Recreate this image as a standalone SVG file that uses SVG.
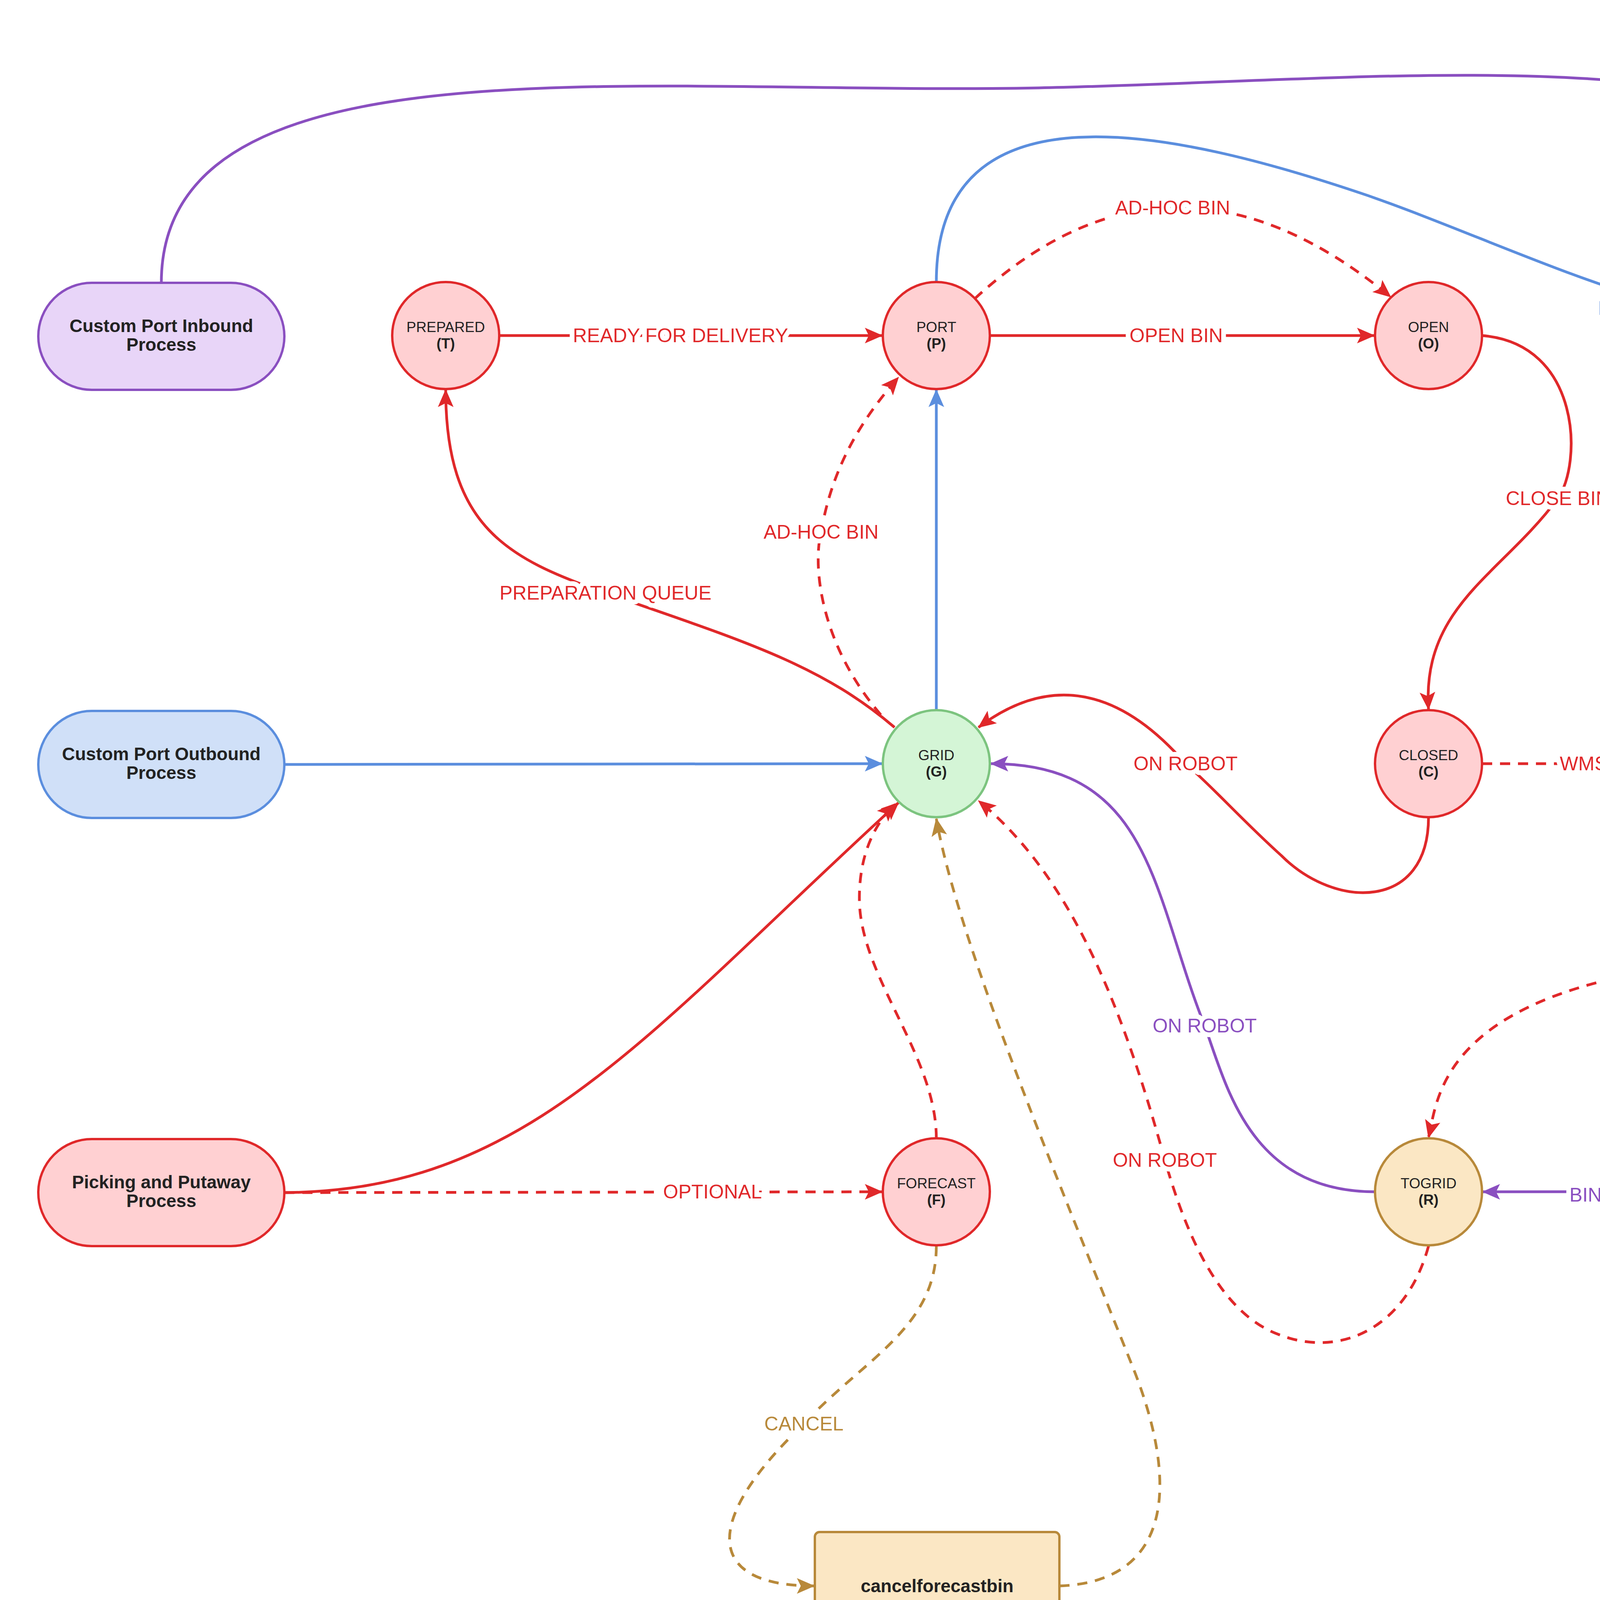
<svg xmlns="http://www.w3.org/2000/svg" width="6414" height="4296" viewBox="0 0 6414 4296">
<style>
text{font-family:"Liberation Sans",Arial,sans-serif;text-anchor:middle}
.nt{font-size:37px;fill:#222}
.nb{font-size:37px;fill:#222;font-weight:bold}
.pt{font-size:46px;font-weight:bold;fill:#222}
.e{fill:none;stroke-width:7}
.d{stroke-dasharray:26 20}
.r{stroke:#e0282a}.b{stroke:#5b8ede}.p{stroke:#8a4fc0}.o{stroke:#b8893a}
.l{font-size:50px;paint-order:stroke;stroke:#fff;stroke-width:24px;stroke-linejoin:round}
.lr{fill:#e0282a}.lb{fill:#5b8ede}.lp{fill:#8a4fc0}.lo{fill:#b8893a}
.cr{fill:#ffd0d2;stroke:#e0282a;stroke-width:6}
.cg{fill:#d4f5d6;stroke:#7cc47f;stroke-width:6}
.co{fill:#fbe7c4;stroke:#b8893a;stroke-width:6}
</style>
<defs>
<marker id="ar" markerUnits="userSpaceOnUse" markerWidth="50" markerHeight="40" refX="44" refY="20" orient="auto"><path d="M0,0 L46,20 L0,40 L10,20 Z" fill="#e0282a"/></marker>
<marker id="ab" markerUnits="userSpaceOnUse" markerWidth="50" markerHeight="40" refX="44" refY="20" orient="auto"><path d="M0,0 L46,20 L0,40 L10,20 Z" fill="#5b8ede"/></marker>
<marker id="ap" markerUnits="userSpaceOnUse" markerWidth="50" markerHeight="40" refX="44" refY="20" orient="auto"><path d="M0,0 L46,20 L0,40 L10,20 Z" fill="#8a4fc0"/></marker>
<marker id="ao" markerUnits="userSpaceOnUse" markerWidth="50" markerHeight="40" refX="44" refY="20" orient="auto"><path d="M0,0 L46,20 L0,40 L10,20 Z" fill="#b8893a"/></marker>
</defs>
<rect width="6414" height="4296" fill="#fff"/>
<g id="connectors">
<path class="e p" marker-end="url(#ap)" d="M413,724 C413,82 1636,245 2659,225 C3681,204 4912,40 4912,718"/>
<path class="e r" marker-end="url(#ar)" d="M1278,859 L2258,859"/>
<path class="e r" marker-end="url(#ar)" d="M2534,859 L3518,859"/>
<path class="e r d" marker-end="url(#ar)" d="M2495,765 Q3000,300 3560,760"/>
<path class="e b" marker-end="url(#ab)" d="M2397,722 C2397,200 3000,330 3500,500 C3900,640 4300,859 4773,859"/>
<path class="e b" marker-end="url(#ab)" d="M5049,859 L6033,859"/>
<path class="e r" marker-end="url(#ar)" d="M3794,859 C4050,880 4050,1190 3988,1276 C3845,1470 3640,1550 3657,1816"/>
<path class="e r" marker-end="url(#ar)" d="M3657,2092 C3657,2330 3420,2330 3280,2190 C3180,2100 3100,2010 3035,1955 C2900,1800 2720,1700 2505,1862"/>
<path class="e r" marker-end="url(#ar)" d="M2290,1862 C2100,1700 1900,1640 1550,1518 C1300,1430 1141,1350 1141,998"/>
<path class="e r d" marker-end="url(#ar)" d="M2255,1830 C2100,1650 2080,1450 2102,1362 C2130,1200 2200,1080 2300,966"/>
<path class="e b" marker-end="url(#ab)" d="M2397,1818 L2397,998"/>
<path class="e b" marker-end="url(#ab)" d="M728,1957 L2258,1955"/>
<path class="e r" marker-end="url(#ar)" d="M728,3053 C1350,3050 1650,2650 2300,2055"/>
<path class="e r d" marker-end="url(#ar)" d="M728,3053 L2258,3051"/>
<path class="e r d" marker-end="url(#ar)" d="M2397,2914 C2397,2700 2200,2500 2200,2300 C2200,2200 2230,2120 2290,2058"/>
<path class="e p" marker-end="url(#ap)" d="M3520,3051 C3200,3051 3140,2780 3084,2626 C2950,2290 2950,1955 2537,1955"/>
<path class="e r d" marker-end="url(#ar)" d="M3657,3190 C3600,3400 3430,3480 3270,3415 C3100,3350 3020,3100 2982,2970 C2880,2600 2750,2250 2505,2050"/>
<path class="e p" marker-end="url(#ap)" d="M4912,998 C4912,1640 5480,1840 5472,2330 C5460,2780 5030,3030 4620,3050 L3796,3051"/>
<path class="e r d" marker-end="url(#ar)" d="M4912,2094 C4912,2370 4620,2430 4295,2475 C3680,2560 3680,2820 3657,2912"/>
<path class="e r d" marker-end="url(#ar)" d="M3794,1955 L4599,1955"/>
<path class="e o d" marker-end="url(#ao)" d="M2397,3190 C2397,3400 2210,3480 2058,3645 C1800,3890 1800,4060 2084,4060"/>
<path class="e o d" marker-end="url(#ao)" d="M2712,4060 C3000,4050 3020,3800 2900,3500 C2700,3000 2450,2400 2397,2096"/>
<text class="l lr" x="1742" y="876">READY FOR DELIVERY</text>
<text class="l lr" x="3011" y="876">OPEN BIN</text>
<text class="l lr" x="3002" y="549">AD-HOC BIN</text>
<text class="l lb" x="4266" y="806">BIN REMOVED</text>
<text class="l lb" x="5530" y="876">BIN DELETED</text>
<text class="l lr" x="3988" y="1293">CLOSE BIN</text>
<text class="l lr" x="3035" y="1972">ON ROBOT</text>
<text class="l lr" x="1550" y="1535">PREPARATION QUEUE</text>
<text class="l lr" x="2102" y="1379">AD-HOC BIN</text>
<text class="l lr" x="1824" y="3068">OPTIONAL</text>
<text class="l lp" x="3084" y="2643">ON ROBOT</text>
<text class="l lr" x="2982" y="2987">ON ROBOT</text>
<text class="l lp" x="4320" y="3076">BIN READY FOR PICK-UP</text>
<text class="l lr" x="4189" y="1972">WMS / AS Router</text>
<text class="l lo" x="2058" y="3662">CANCEL</text>
</g>
<g id="inbound"><rect x="98" y="724" width="630" height="274" rx="137" fill="#e8d5f8" stroke="#8a4fc0" stroke-width="6"/><text class="pt" x="413" y="850">Custom Port Inbound</text><text class="pt" x="413" y="898">Process</text></g>
<g id="outbound"><rect x="98" y="1820" width="630" height="274" rx="137" fill="#d0e0f8" stroke="#5b8ede" stroke-width="6"/><text class="pt" x="413" y="1946">Custom Port Outbound</text><text class="pt" x="413" y="1994">Process</text></g>
<g id="picking"><rect x="98" y="2916" width="630" height="274" rx="137" fill="#ffd0d2" stroke="#e0282a" stroke-width="6"/><text class="pt" x="413" y="3042">Picking and Putaway</text><text class="pt" x="413" y="3090">Process</text></g>
<g id="prepared"><circle class="cr" cx="1141" cy="859" r="137"/><text class="nt" x="1141" y="850">PREPARED</text><text class="nb" x="1141" y="892">(T)</text></g>
<g id="port"><circle class="cr" cx="2397" cy="859" r="137"/><text class="nt" x="2397" y="850">PORT</text><text class="nb" x="2397" y="892">(P)</text></g>
<g id="open"><circle class="cr" cx="3657" cy="859" r="137"/><text class="nt" x="3657" y="850">OPEN</text><text class="nb" x="3657" y="892">(O)</text></g>
<g id="outside"><circle class="cr" cx="4912" cy="859" r="137"/><text class="nt" x="4912" y="850">OUTSIDE</text><text class="nb" x="4912" y="892">(X)</text></g>
<g id="deleted"><circle class="cr" cx="6172" cy="859" r="137"/><text class="nt" x="6172" y="850">DELETED</text><text class="nb" x="6172" y="892">(D)</text></g>
<g id="grid"><circle class="cg" cx="2397" cy="1955" r="137"/><text class="nt" x="2397" y="1946">GRID</text><text class="nb" x="2397" y="1988">(G)</text></g>
<g id="closed"><circle class="cr" cx="3657" cy="1955" r="137"/><text class="nt" x="3657" y="1946">CLOSED</text><text class="nb" x="3657" y="1988">(C)</text></g>
<g id="forecast"><circle class="cr" cx="2397" cy="3051" r="137"/><text class="nt" x="2397" y="3042">FORECAST</text><text class="nb" x="2397" y="3084">(F)</text></g>
<g id="togrid"><circle class="co" cx="3657" cy="3051" r="137"/><text class="nt" x="3657" y="3042">TOGRID</text><text class="nb" x="3657" y="3084">(R)</text></g>
<g id="flushport"><rect class="co" x="4601" y="1820" width="626" height="274" rx="12"/><text class="pt" x="4914" y="1922">flushport</text><text x="4914" y="2022" style="font-size:46px;fill:#222">flushportbin</text></g>
<g id="cancelforecastbin"><rect class="co" x="2086" y="3922" width="626" height="274" rx="12"/><text class="pt" x="2399" y="4076">cancelforecastbin</text></g>
</svg>
